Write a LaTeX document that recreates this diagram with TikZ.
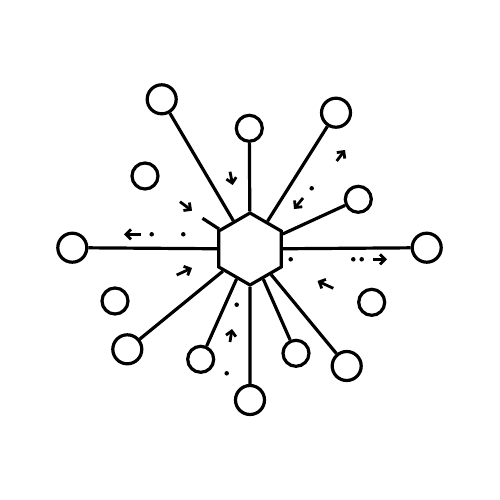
\documentclass[tikz,border=0pt]{standalone}
\usetikzlibrary{shapes.geometric,arrows.meta}
\begin{document}
\begin{tikzpicture}[x=1pt,y=-1pt,
  line width=3.2pt,main node/.style={circle,draw,minimum size=29pt,inner sep=0pt},
  small node/.style={main node,minimum size=26pt},
  hub node/.style={regular polygon,regular polygon sides=6,draw,minimum size=72pt,inner sep=0pt,rotate=30},
  arr/.style={line width=2.8pt,-{Straight Barb[length=5pt,width=10pt]}},
  dot/.style={circle,fill,inner sep=0pt,minimum size=4.5pt}]

  \useasboundingbox (0,0) rectangle (500,500);

  \node[hub node] (0) at (250,249) {};

  \node[main node] (1) at (161.7,99.3) {};
  \node[small node] (2) at (249.3,128.3) {};
  \node[main node] (3) at (336,112.7) {};
  \node[small node] (4) at (358.3,199.3) {};
  \node[main node] (5) at (426.7,247.7) {};
  \node[small node] (6) at (371.7,302.3) {};
  \node[main node] (7) at (346.7,366) {};
  \node[small node] (8) at (296,353.3) {};
  \node[main node] (9) at (250,400) {};
  \node[small node] (10) at (200.7,359.3) {};
  \node[main node] (11) at (127.3,349.3) {};
  \node[small node] (12) at (115,301) {};
  \node[main node] (13) at (72.3,247.7) {};
  \node[small node] (14) at (145,176) {};
  \coordinate (stub) at (202.5,218.3);

  \path
   (0) edge (1)
   (0) edge (2)
   (0) edge (3)
   (0) edge (4)
   (0) edge (5)
   (0) edge (7)
   (0) edge (8)
   (0) edge (9)
   (0) edge (10)
   (0) edge (11)
   (0) edge (13)
   (0) edge (stub);

  % little arrows and dots
  \draw[arr] (230,171.7) -- (232.7,185);
  \draw[arr] (180,201.7) -- (192,210.7);
  \draw[arr] (336.7,161) -- (345,150);
  \draw[arr] (303,198) -- (294,209);
  \draw[arr] (141,234.3) -- (124,234.3);
  \draw[arr] (373,259.3) -- (387,259.3);
  \draw[arr] (176.7,275) -- (192,268);
  \draw[arr] (333.3,288.3) -- (317.5,281);
  \draw[arr] (230,342) -- (232,329);

  \node[dot] (d1) at (151.7,234.3) {};
  \node[dot] (d2) at (183.3,234.3) {};
  \node[dot] (d3) at (311.7,188.3) {};
  \node[dot] (d4) at (290.7,259.3) {};
  \node[dot] (d5) at (353.3,259.3) {};
  \node[dot] (d6) at (361.7,259.3) {};
  \node[dot] (d7) at (236.7,304.7) {};
  \node[dot] (d8) at (226.7,373.3) {};
\end{tikzpicture}
\end{document}
